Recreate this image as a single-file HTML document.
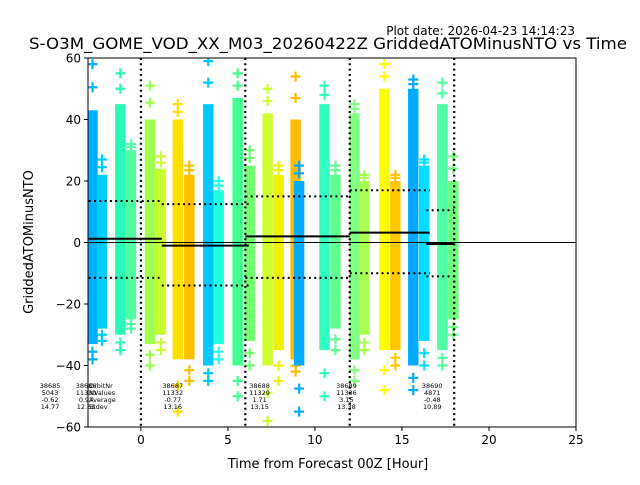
<!DOCTYPE html>
<html><head><meta charset="utf-8"><style>
body{margin:0;background:#fff;width:640px;height:480px;overflow:hidden;font-family:"Liberation Sans","DejaVu Sans",sans-serif}
svg text{font-family:"DejaVu Sans","Liberation Sans",sans-serif}
</style></head><body>
<svg id="chart" width="640" height="480" xmlns="http://www.w3.org/2000/svg">
<text x="575" y="35" font-size="12" text-anchor="end">Plot date: 2026-04-23 14:14:23</text>
<text x="328" y="49" font-size="15.8" text-anchor="middle" textLength="598" lengthAdjust="spacingAndGlyphs">S-O3M_GOME_VOD_XX_M03_20260422Z GriddedATOMinusNTO vs Time</text>
<g id="plot"></g>
<text x="328" y="468" font-size="13" text-anchor="middle">Time from Forecast 00Z [Hour]</text>
<text x="33" y="242" font-size="13" text-anchor="middle" transform="rotate(-90 33 242)">GriddedATOMinusNTO</text>
</svg>
<script>
const colHours=[-2.78,-2.24,-1.18,-0.57,0.52,1.15,2.12,2.78,3.87,4.47,5.56,6.25,7.28,7.91,8.89,9.09,10.55,11.18,12.27,12.84,13.99,14.62,15.65,16.28,17.32,17.95];
const colTop=[43,22,45,30,40,24,40,22,45,17,47,25,42,22,40,20,45,22,42,20,50,20,50,25,45,20];
const colBot=[-33,-28,-30,-25,-33,-30,-38,-38,-40,-33,-40,-32,-40,-35,-38,-40,-35,-28,-38,-30,-35,-35,-40,-32,-35,-25];
const colColor=["#00b0ff","#00ccff","#28f8b8","#50ffa0","#a0ff50","#c8ff30","#ffe000","#ffc000","#00c8ff","#20ffe0","#40ff90","#70ff70","#d0ff30","#f0f000","#ffbb00","#00aaff","#30ffc0","#60ff90","#80ff80","#a8ff50","#ffff00","#ffc800","#00aaff","#00ddff","#50ffa0","#70ff80"];
const outHigh=[58,27,55,32,51,28,45,25,59,20,55,30,50,25,54,25,51,25,45,22,58,22,53,27,52,28];
const outLow=[-38,-32,-35,-28,-40,-35,-55,-45,-45,-38,-50,-40,-58,-45,-42,-55,-50,-35,-45,-35,-48,-40,-48,-40,-40,-30];
const segStart=[-3,1.2,6,12,16.4];
const segEnd=[1.2,6.2,12,16.6,18];
const segMean=[1.2,-1,2,3.2,-0.5];
const segUpper=[13.5,12.5,15,17,10.5];
const segLower=[-11.5,-14,-11.5,-10,-11];
const vLines=[0,6,12,18];
const xTicks=[0,5,10,15,20,25];
const yTicks=[-60,-40,-20,0,20,40,60];
const annotX=[-5.22,-3.15,1.83,6.82,11.81,16.74];
const annotOrbit=["38685","38686","38687","38688","38689","38690"];
const annotN=["5043","11330","11332","11329","11336","4871"];
const annotAvg=["-0.62","0.97","-0.77","1.71","3.15","-0.48"];
const annotStd=["14.77","12.65","13.16","13.15","13.38","10.89"];

const L=88,R=576,T=58,B=427,xmin=-3.04,xmax=25,ymin=-60,ymax=60;
const X=v=>L+(v-xmin)/(xmax-xmin)*(R-L);
const Y=v=>B-(v-ymin)/(ymax-ymin)*(B-T);
const NS="http://www.w3.org/2000/svg";
const g=document.getElementById('plot');
function mk(t,a,p){const e=document.createElementNS(NS,t);for(const k in a)e.setAttribute(k,a[k]);(p||g).appendChild(e);return e;}
const clip=mk('clipPath',{id:'pc'});mk('rect',{x:L,y:T,width:R-L,height:B-T},clip);
const marks=mk('g',{'clip-path':'url(#pc)'});


const w=X(0.6)-X(0);
function cross(x,y,c){mk('path',{d:`M${x-5} ${y}h10M${x} ${y-5}v10`,stroke:c,'stroke-width':2.2},marks);}
colHours.forEach((h,i)=>{
  const cx=X(h);
  const r=mk('rect',{x:cx-w/2,y:Y(colTop[i]),width:w,height:Y(colBot[i])-Y(colTop[i]),fill:colColor[i]},marks);
  
  
  cross(cx,Y(outHigh[i]),colColor[i]);
  cross(cx,Y((outHigh[i]+colTop[i])/2),colColor[i]);
  cross(cx,Y(outLow[i]),colColor[i]);
  cross(cx,Y((outLow[i]+colBot[i])/2),colColor[i]);
});
mk('line',{x1:L,x2:R,y1:Y(0),y2:Y(0),stroke:'#000','stroke-width':1});
segStart.forEach((s,i)=>{
  const m=mk('line',{x1:X(s),x2:X(segEnd[i]),y1:Y(segMean[i]),y2:Y(segMean[i]),stroke:'#000','stroke-width':2});
  
  
  const u=mk('line',{x1:X(s),x2:X(segEnd[i]),y1:Y(segUpper[i]),y2:Y(segUpper[i]),stroke:'#000','stroke-width':2,'stroke-dasharray':'2,3.3'});
  
  
  const lo=mk('line',{x1:X(s),x2:X(segEnd[i]),y1:Y(segLower[i]),y2:Y(segLower[i]),stroke:'#000','stroke-width':2,'stroke-dasharray':'2,3.3'});
  
  
});
vLines.forEach(v=>{
  const l=mk('line',{x1:X(v),x2:X(v),y1:T,y2:B,stroke:'#000','stroke-width':2.2,'stroke-dasharray':'2,3.3'});
  
  
});
annotX.forEach((h,i)=>{
  const t=mk('text',{x:X(h),y:388,'font-size':6.5,'text-anchor':'middle'});
  
  
  [annotOrbit[i],annotN[i],annotAvg[i],annotStd[i]].forEach((s,k)=>{const ts=mk('tspan',{x:X(h),dy:k?7:0},t);ts.textContent=s;});
});
const lg=mk('text',{x:89,y:388,'font-size':6.5});


["OrbitNr","NValues","Average","Stdev"].forEach((s,k)=>{const ts=mk('tspan',{x:89,dy:k?7:0},lg);ts.textContent=s;});
const fr=mk('rect',{x:L,y:T,width:R-L,height:B-T,fill:'none',stroke:'#000','stroke-width':1});


xTicks.forEach(v=>{
  mk('line',{x1:X(v),x2:X(v),y1:B,y2:B+4,stroke:'#000'});
  const t=mk('text',{x:X(v),y:B+17,'font-size':12,'text-anchor':'middle'});
  
  
  t.textContent=v;
});
yTicks.forEach(v=>{
  mk('line',{x1:L-4,x2:L,y1:Y(v),y2:Y(v),stroke:'#000'});
  const t=mk('text',{x:L-7,y:Y(v)+4.5,'font-size':12,'text-anchor':'end'});
  
  
  t.textContent=v<0?'\u2212'+(-v):v;
});
</script>
</body></html>
